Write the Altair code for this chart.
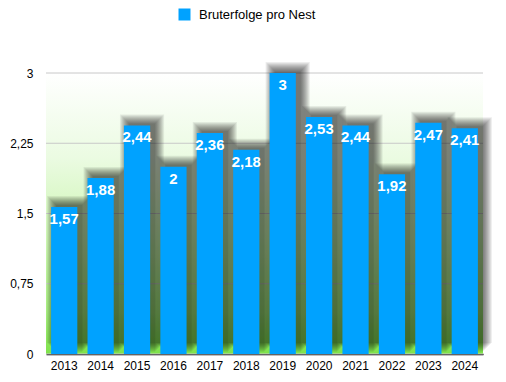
import altair as alt
import pandas as pd

years = ["2013", "2014", "2015", "2016", "2017", "2018", "2019", "2020", "2021", "2022", "2023", "2024"]
values = [1.57, 1.88, 2.44, 2.0, 2.36, 2.18, 3.0, 2.53, 2.44, 1.92, 2.47, 2.41]
series = "Bruterfolge pro Nest"
y_ticks = [0, 0.75, 1.5, 2.25, 3]

W, H = 437, 281
STEP = W / len(years)
BAR_W = STEP * 0.72
FONT = "Liberation Sans"

df = pd.DataFrame({"year": years, "value": values, "series": [series] * len(years)})
grid_df = pd.DataFrame({"v": y_ticks})
bg_df = pd.DataFrame({"a": [0]})

xscale = alt.Scale(domain=years, paddingInner=0, paddingOuter=0)
yscale = alt.Scale(domain=[0, 3], nice=False)

xaxis = alt.Axis(
    title=None, labelAngle=0, ticks=False, labelFontSize=12, labelFont=FONT,
    labelColor="#000000", domainColor="#000000", domainWidth=1.5, labelPadding=6,
    grid=False,
)
yaxis = alt.Axis(
    title=None, values=y_ticks, ticks=False, domain=False, grid=False,
    labelFontSize=12, labelFont=FONT, labelColor="#000000", labelPadding=13,
    labelExpr="replace(toString(datum.value), '.', ',')",
)

X = alt.X("year:N", scale=xscale, sort=years, axis=xaxis)
Y = alt.Y("value:Q", scale=yscale, axis=yaxis)

base = alt.Chart(df)

bg = alt.Chart(bg_df).mark_rect(
    fill=alt.Gradient(
        gradient="linear",
        stops=[
            alt.GradientStop(color="#ffffff", offset=0),
            alt.GradientStop(color="#ebfbe2", offset=0.3),
            alt.GradientStop(color="#cbf5b0", offset=0.6),
            alt.GradientStop(color="#a6ec7e", offset=0.85),
            alt.GradientStop(color="#7ee24a", offset=1),
        ],
        x1=0, x2=0, y1=0, y2=1,
    )
).encode(x=alt.value(0), x2=alt.value(W), y=alt.value(0), y2=alt.value(H))

grid = alt.Chart(grid_df).mark_rule(color="#c8c8c8", strokeWidth=1).encode(
    y=alt.Y("v:Q", scale=yscale, axis=yaxis)
)

shadows = []
for e in [9, 8, 7, 6, 5, 4, 3, 2, 1, 0]:
    shadows.append(
        base.mark_bar(
            color="black", opacity=0.07, width=BAR_W + 2 * e,
            xOffset=5, yOffset=-(2 + e), y2Offset=-3 - e * 0.5,
        ).encode(x=X, y=Y)
    )

bars = base.mark_bar(width={"band": 0.72}).encode(
    x=X,
    y=Y,
    color=alt.Color(
        "series:N",
        scale=alt.Scale(domain=[series], range=["#00a2ff"]),
        legend=alt.Legend(
            title=None, orient="none", legendX=132, legendY=-65, symbolType="square",
            symbolSize=144, symbolStrokeWidth=0, labelFontSize=13, labelFont=FONT,
            labelColor="#000000", labelOffset=8, padding=0,
        ),
    ),
)

labels = base.transform_calculate(
    label="replace(toString(datum.value), '.', ',')"
).mark_text(
    color="white", fontSize=15, fontWeight="bold", font=FONT, baseline="alphabetic", dy=17,
).encode(x=X, y=Y, text="label:N")

chart = alt.layer(bg, grid, *shadows, bars, labels).properties(
    width=W, height=H,
    autosize=alt.AutoSizeParams(type="none"),
    padding={"left": 38, "top": 65, "right": 15, "bottom": 25},
).configure_view(stroke=None)

chart.save("out.html", embed_options={"renderer": "svg", "actions": False})
